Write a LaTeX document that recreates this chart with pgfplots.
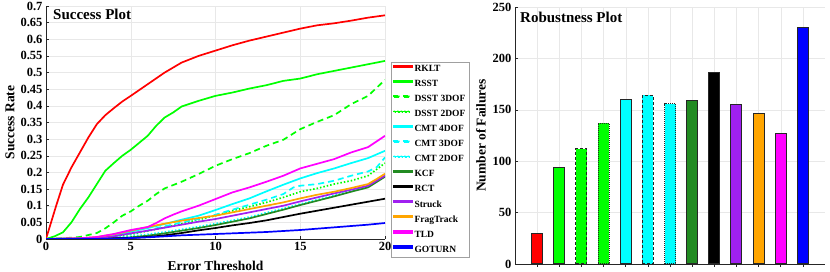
\documentclass[border=0pt]{standalone}
\usepackage{pgfplots}
\pgfplotsset{compat=1.18}
\usepackage{fontspec}
\setmainfont{Liberation Serif}
\definecolor{fgreen}{RGB}{34,139,34}
\definecolor{mpurple}{RGB}{160,32,240}
\definecolor{morange}{RGB}{255,165,0}
\definecolor{mred}{RGB}{255,0,0}
\definecolor{mgreen}{RGB}{0,255,0}
\definecolor{mblue}{RGB}{0,0,255}
\definecolor{mcyan}{RGB}{0,255,255}
\definecolor{mmagenta}{RGB}{255,0,255}
\definecolor{mblack}{RGB}{0,0,0}
\definecolor{axgray}{RGB}{38,38,38}
\definecolor{leggray}{RGB}{160,160,160}
\newcommand\legsolid[1]{\fill[#1] (0pt,2.2pt) rectangle (18pt,3.8pt);}
\newcommand\legdash[1]{\fill[#1] (0pt,2.2pt) rectangle (6pt,3.8pt) (10pt,2.2pt) rectangle (16pt,3.8pt);}
\newcommand\legdot[1]{\fill[#1] (0pt,2.2pt) rectangle (1.5pt,3.8pt) (3.5pt,2.2pt) rectangle (5pt,3.8pt) (7pt,2.2pt) rectangle (8.5pt,3.8pt) (10.5pt,2.2pt) rectangle (12pt,3.8pt) (14pt,2.2pt) rectangle (15.5pt,3.8pt);}
\begin{document}
\begin{tikzpicture}
\useasboundingbox (0,0) rectangle (830pt,272pt);
\pgfplotsset{
  mystyle/.style={
    scale only axis,
    axis x line*=bottom, axis y line*=left,
    axis line style={axgray, line width=0.6pt},
    tick style={axgray, line width=0.5pt},
    tick align=inside,
    major tick length=3pt,
    grid=major,
    major grid style={gray!18, line width=0.4pt},
    /pgf/number format/assume math mode=true,
    ticklabel style={font=\fontsize{12.5}{12.5}\selectfont\bfseries},
  }
}
\begin{axis}[mystyle,
  at={(46pt,33pt)}, anchor=south west,
  width=339pt, height=233pt,
  xmin=0, xmax=20, ymin=0, ymax=0.7,
  xtick={0,5,10,15,20},
  ytick={0,0.05,...,0.7},
  yticklabel style={/pgf/number format/fixed, /pgf/number format/precision=2},
  xlabel={Error Threshold}, ylabel={Success Rate},
  every axis x label/.style={at={(axis description cs:0.5,0)}, yshift=-27pt, anchor=center, font=\fontsize{13.5}{13.5}\selectfont\bfseries},
  every axis y label/.style={at={(axis description cs:0,0.5)}, xshift=-36pt, rotate=90, anchor=center, font=\fontsize{13.5}{13.5}\selectfont\bfseries},
  legend style={at={(rel axis cs:1.018,0.760)}, anchor=north west, draw=none, fill=none, name=leg,
    font=\fontsize{9.5}{9.5}\selectfont\bfseries, inner sep=1.5pt, row sep=3.2pt},
  legend cell align=left,
]
% RKLT
\addplot[draw=mred, line width=1.7pt, legend image code/.code={\legsolid{mred}}] coordinates {(0,0) (0.3,0.05) (0.6,0.1) (1,0.163) (1.5,0.215) (2,0.26) (2.5,0.305) (3,0.345) (3.5,0.372) (4,0.393) (4.5,0.413) (5,0.43) (6,0.465) (7,0.5) (8,0.53) (9,0.55) (10,0.566) (11,0.582) (12,0.596) (13,0.608) (14,0.62) (15,0.632) (16,0.642) (17,0.648) (18,0.656) (19,0.665) (20,0.672)};
\addlegendentry{RKLT}
% RSST
\addplot[draw=mgreen, line width=1.7pt, legend image code/.code={\legsolid{mgreen}}] coordinates {(0,0) (0.5,0.008) (1,0.02) (1.5,0.05) (2,0.09) (2.5,0.125) (3,0.165) (3.5,0.205) (4,0.228) (4.5,0.25) (5,0.268) (6,0.31) (6.5,0.34) (7,0.365) (7.5,0.38) (8,0.398) (9,0.415) (10,0.43) (11,0.44) (12,0.452) (13,0.462) (14,0.475) (15,0.482) (16,0.495) (17,0.505) (18,0.515) (19,0.525) (20,0.535)};
\addlegendentry{RSST}
% DSST 3DOF
\addplot[draw=mgreen, line width=1.7pt, dash pattern=on 6pt off 4pt, legend image code/.code={\legdash{mgreen}}] coordinates {(0,0) (1,0.002) (2,0.006) (3,0.018) (3.5,0.032) (4,0.05) (4.5,0.07) (5,0.083) (5.5,0.1) (6,0.115) (6.5,0.135) (7,0.152) (8,0.172) (9,0.195) (10,0.22) (11,0.24) (12,0.258) (13,0.28) (14,0.298) (15,0.33) (16,0.352) (17,0.372) (18,0.405) (19,0.43) (20,0.478)};
\addlegendentry{DSST 3DOF}
% DSST 2DOF
\addplot[draw=mgreen, line width=1.7pt, dash pattern=on 1.5pt off 2pt, legend image code/.code={\legdot{mgreen}}] coordinates {(0,0) (3,0.003) (4,0.007) (5,0.014) (6,0.024) (7,0.035) (8,0.046) (9,0.058) (10,0.07) (11,0.085) (12,0.097) (13,0.11) (14,0.125) (15,0.142) (16,0.152) (17,0.165) (18,0.175) (19,0.19) (20,0.228)};
\addlegendentry{DSST 2DOF}
% CMT 4DOF
\addplot[draw=mcyan, line width=1.7pt, legend image code/.code={\legsolid{mcyan}}] coordinates {(0,0) (2,0.001) (3,0.004) (4,0.01) (5,0.022) (6,0.033) (7,0.045) (8,0.058) (9,0.07) (10,0.087) (11,0.105) (12,0.122) (13,0.143) (14,0.163) (15,0.182) (16,0.198) (17,0.212) (18,0.228) (19,0.243) (20,0.265)};
\addlegendentry{CMT 4DOF}
% CMT 3DOF
\addplot[draw=mcyan, line width=1.7pt, dash pattern=on 6pt off 4pt, legend image code/.code={\legdash{mcyan}}] coordinates {(0,0) (3,0.003) (4,0.008) (5,0.016) (6,0.026) (7,0.038) (8,0.05) (9,0.06) (10,0.073) (11,0.088) (12,0.103) (13,0.118) (14,0.135) (14.6,0.155) (15,0.16) (16,0.165) (17,0.175) (18,0.19) (19,0.203) (19.5,0.215) (20,0.245)};
\addlegendentry{CMT 3DOF}
% CMT 2DOF
\addplot[draw=mcyan, line width=1.7pt, dash pattern=on 1.5pt off 2pt, legend image code/.code={\legdot{mcyan}}] coordinates {(0,0) (4,0.003) (5,0.008) (6,0.014) (7,0.021) (8,0.029) (9,0.037) (10,0.046) (11,0.056) (12,0.066) (13,0.079) (14,0.092) (15,0.105) (16,0.118) (17,0.131) (18,0.145) (19,0.158) (20,0.19)};
\addlegendentry{CMT 2DOF}
% KCF
\addplot[draw=fgreen, line width=1.7pt, legend image code/.code={\legsolid{fgreen}}] coordinates {(0,0) (4,0.002) (5,0.005) (6,0.01) (7,0.017) (8,0.025) (9,0.033) (10,0.042) (11,0.052) (12,0.062) (13,0.075) (14,0.088) (15,0.102) (16,0.115) (17,0.128) (18,0.142) (19,0.155) (20,0.187)};
\addlegendentry{KCF}
% RCT
\addplot[draw=mblack, line width=1.7pt, legend image code/.code={\legsolid{mblack}}] coordinates {(0,0) (5,0.003) (6,0.006) (7,0.011) (8,0.018) (9,0.026) (10,0.033) (11,0.041) (12,0.048) (13,0.056) (14,0.066) (15,0.076) (16,0.085) (17,0.094) (18,0.103) (19,0.112) (20,0.121)};
\addlegendentry{RCT}
% Struck
\addplot[draw=mpurple, line width=1.7pt, legend image code/.code={\legsolid{mpurple}}] coordinates {(0,0) (3,0.003) (4,0.008) (5,0.017) (6,0.025) (7,0.034) (8,0.043) (9,0.052) (10,0.06) (11,0.07) (12,0.08) (13,0.09) (14,0.1) (15,0.113) (16,0.125) (17,0.137) (18,0.148) (19,0.16) (20,0.19)};
\addlegendentry{Struck}
% FragTrack
\addplot[draw=morange, line width=1.7pt, legend image code/.code={\legsolid{morange}}] coordinates {(0,0) (2,0.002) (3,0.006) (4,0.014) (5,0.025) (6,0.036) (7,0.046) (8,0.055) (9,0.063) (10,0.07) (11,0.08) (12,0.09) (13,0.1) (14,0.11) (15,0.122) (16,0.133) (17,0.142) (18,0.153) (19,0.165) (19.5,0.18) (20,0.196)};
\addlegendentry{FragTrack}
% TLD
\addplot[draw=mmagenta, line width=1.7pt, legend image code/.code={\legsolid{mmagenta}}] coordinates {(0,0) (2,0.002) (3,0.006) (4,0.015) (5,0.027) (6,0.036) (6.5,0.048) (7,0.062) (7.5,0.073) (8,0.083) (9,0.1) (10,0.12) (11,0.14) (12,0.155) (13,0.172) (14,0.19) (15,0.212) (16,0.226) (17,0.24) (18,0.26) (19,0.276) (20,0.31)};
\addlegendentry{TLD}
% GOTURN
\addplot[draw=mblue, line width=1.7pt, legend image code/.code={\legsolid{mblue}}] coordinates {(0,0) (4,0.001) (5,0.003) (6,0.005) (7,0.008) (8,0.011) (9,0.013) (10,0.015) (11,0.017) (12,0.019) (13,0.021) (14,0.024) (15,0.027) (16,0.031) (17,0.035) (18,0.039) (19,0.043) (20,0.048)};
\addlegendentry{GOTURN}
\node[anchor=north west, inner sep=0pt, font=\fontsize{15}{15}\selectfont\bfseries] at (rel axis cs:0,1) [xshift=7pt, yshift=-3pt] {Success Plot};
\end{axis}
\draw[leggray, line width=0.5pt] (leg.south west) rectangle (leg.north east);

\begin{axis}[mystyle,
  at={(515pt,8pt)}, anchor=south west,
  width=310pt, height=257pt,
  xmin=0, xmax=14, ymin=0, ymax=250,
  xtick={1,...,13}, xticklabels={},
  ytick={0,50,...,250},
  ylabel={Number of Failures},
  every axis y label/.style={at={(axis description cs:0,0.5)}, xshift=-34pt, rotate=90, anchor=center, font=\fontsize{13.5}{13.5}\selectfont\bfseries},
  ybar, bar width=11pt, bar shift=0pt,
]
\addplot[fill=mred, draw=black!85, line width=1pt] coordinates {(1,30)};
\addplot[fill=mgreen, draw=black!85, line width=1pt] coordinates {(2,94)};
\addplot[fill=mgreen, draw=black!85, line width=1pt, dash pattern=on 3pt off 2pt] coordinates {(3,112)};
\addplot[fill=mgreen, draw=black!85, line width=1pt, dash pattern=on 1pt off 1pt] coordinates {(4,137)};
\addplot[fill=mcyan, draw=black!85, line width=1pt] coordinates {(5,160)};
\addplot[fill=mcyan, draw=black!85, line width=1pt, dash pattern=on 3pt off 2pt] coordinates {(6,164)};
\addplot[fill=mcyan, draw=black!85, line width=1pt, dash pattern=on 1pt off 1pt] coordinates {(7,156)};
\addplot[fill=fgreen, draw=black!85, line width=1pt] coordinates {(8,159)};
\addplot[fill=mblack, draw=black!85, line width=1pt] coordinates {(9,186)};
\addplot[fill=mpurple, draw=black!85, line width=1pt] coordinates {(10,155)};
\addplot[fill=morange, draw=black!85, line width=1pt] coordinates {(11,146)};
\addplot[fill=mmagenta, draw=black!85, line width=1pt] coordinates {(12,127)};
\addplot[fill=mblue, draw=black!85, line width=1pt] coordinates {(13,230)};
\node[anchor=north west, inner sep=0pt, font=\fontsize{15}{15}\selectfont\bfseries] at (rel axis cs:0,1) [xshift=5pt, yshift=-5pt] {Robustness Plot};
\end{axis}
\end{tikzpicture}
\end{document}
